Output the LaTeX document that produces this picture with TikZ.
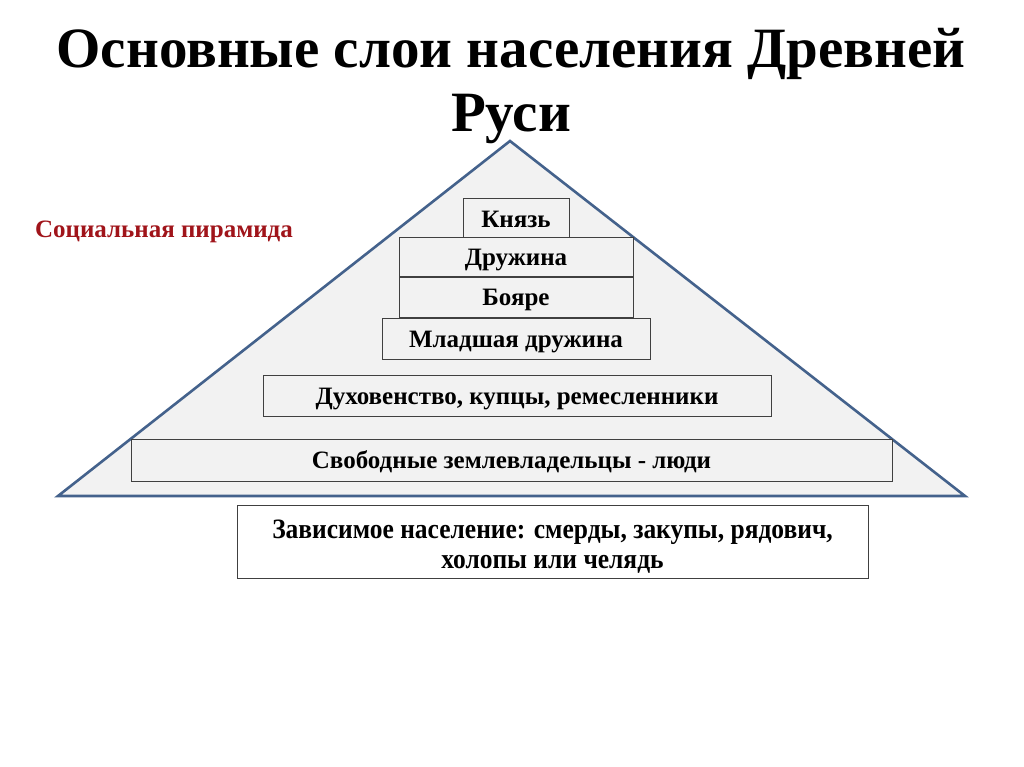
\documentclass[tikz,border=0pt]{standalone}
\usepackage{fontspec}
\setmainfont{Liberation Serif}
\usepackage{tikz}
\definecolor{pyrblue}{HTML}{44628C}
\definecolor{pyrfill}{HTML}{F2F2F2}
\definecolor{labelred}{HTML}{A0141A}
\tikzset{
  layer/.style={draw=black!75, line width=0.9pt, fill=pyrfill, inner sep=0pt,
    text height=20pt, text depth=3pt,
    font=\bfseries\fontsize{25}{28}\selectfont},
  titletext/.style={font=\bfseries\fontsize{57}{64}\selectfont}
}
\begin{document}
\begin{tikzpicture}[x=1pt,y=-1pt]
\useasboundingbox[fill=white] (0,0) rectangle (1024,767);
\node at (511,54) [titletext] (title1) {Основные слои населения Древней};
\node at (511,119) [titletext] (title2) {Руси};
\coordinate (apex) at (510,141);
\coordinate (left) at (58,496);
\coordinate (right) at (965,496);
\filldraw[draw=pyrblue, fill=pyrfill, line width=2.6pt, line join=miter]
(apex)--(right)--(left)--cycle;
\node at (164,232) [font=\bfseries\fontsize{25}{28}\selectfont, text=labelred] (label) {Социальная пирамида};
\node at (516,218.5) [layer, minimum width=106, minimum height=41] (knyaz) {Князь};
\node at (516,256.5) [layer, minimum width=234, minimum height=39] (druzh) {Дружина};
\node at (516,297) [layer, minimum width=234, minimum height=40] (boyare) {Бояре};
\node at (516,338.5) [layer, minimum width=268, minimum height=41] (mlad) {Младшая дружина};
\node at (517,395.5) [layer, minimum width=508, minimum height=41] (duh) {Духовенство, купцы, ремесленники};
\node at (511.5,460) [layer, minimum width=761, minimum height=42] (svob) {Свободные землевладельцы - люди};
\node at (552.5,541.5) [layer, fill=white, minimum width=631, minimum height=73, align=center,
  text height=60pt, text depth=6pt,
  font=\bfseries\fontsize{28}{30}\selectfont] (zavis)
  {\addfontfeatures{FakeStretch=0.91}Зависимое население: смерды, закупы, рядович,\\
   \addfontfeatures{FakeStretch=0.91}холопы или челядь};
\end{tikzpicture}
\end{document}
